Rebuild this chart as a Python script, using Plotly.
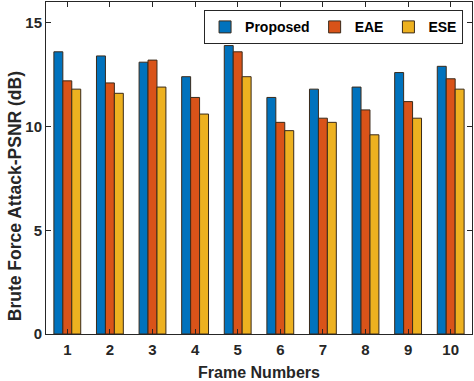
import plotly.graph_objects as go

frames = [str(i) for i in range(1, 11)]
proposed = [13.6, 13.4, 13.1, 12.4, 13.9, 11.4, 11.8, 11.9, 12.6, 12.9]
eae = [12.2, 12.1, 13.2, 11.4, 13.6, 10.2, 10.4, 10.8, 11.2, 12.3]
ese = [11.8, 11.6, 11.9, 10.6, 12.4, 9.8, 10.2, 9.6, 10.4, 11.8]

series = [("Proposed", proposed, "#0072BD"), ("EAE", eae, "#D95319"), ("ESE", ese, "#EDB120")]

fig = go.Figure()
for name, vals, col in series:
    fig.add_trace(go.Bar(x=frames, y=vals, name=f"<b>{name}</b>",
                         marker=dict(color=col, line=dict(color="#3a2a1a", width=1))))

fig.update_layout(
    width=474, height=381,
    margin=dict(l=46, r=2, t=2, b=47),
    barmode="group", bargap=0.37, bargroupgap=0,
    plot_bgcolor="white", paper_bgcolor="white",
    font=dict(family="Liberation Sans, Arial, sans-serif", size=15, color="#262626"),
    legend=dict(orientation="h", x=0.979, xanchor="right", y=0.975, yanchor="top",
                bgcolor="white", bordercolor="#262626", borderwidth=1,
                font=dict(size=14, family="Liberation Sans, Arial, sans-serif", color="black"),
                traceorder="normal", itemwidth=30, tracegroupgap=0),
    xaxis=dict(title=dict(text="<b>Frame Numbers</b>", font=dict(size=16), standoff=9),
               automargin=False, ticklabelstandoff=2,
               tickfont=dict(size=15), showline=True, linecolor="#262626", mirror="ticks",
               ticks="inside", ticklen=5, tickcolor="#262626", showgrid=False,
               tickvals=frames, ticktext=[f"<b>{f}</b>" for f in frames]),
    yaxis=dict(automargin=False,
               range=[0, 16], tickvals=[0, 5, 10, 15], ticktext=["<b>0</b>", "<b>5</b>", "<b>10</b>", "<b>15</b>"],
               tickfont=dict(size=15), showline=True, linecolor="#262626", mirror="ticks",
               ticks="inside", ticklen=5, tickcolor="#262626", showgrid=False, zeroline=False),
    annotations=[dict(text="<b>Brute Force Attack-PSNR (dB)</b>", textangle=-90,
                      xref="paper", yref="paper", x=-0.0728, y=0.415,
                      xanchor="center", yanchor="middle", showarrow=False,
                      font=dict(size=17.5, family="Liberation Sans, Arial, sans-serif", color="#262626"))],
)
fig.write_html("out.html", config={"displayModeBar": False},
               post_script="document.body.style.margin='0';")
